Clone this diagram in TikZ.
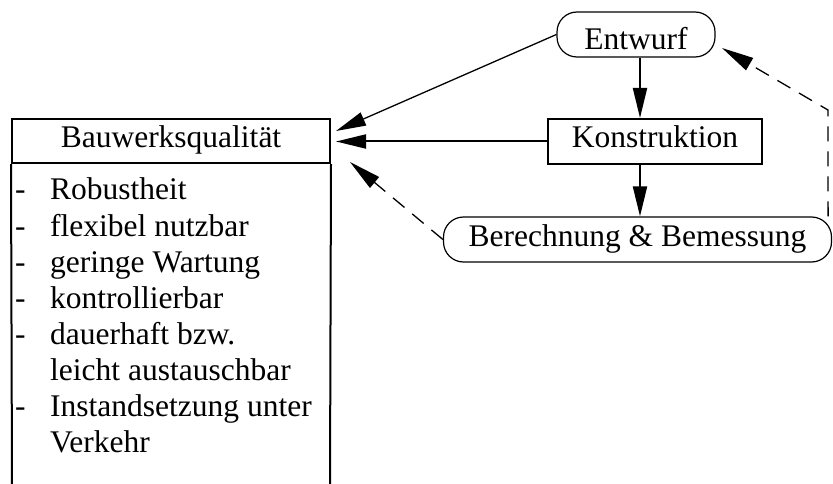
\documentclass[tikz,border=0pt]{standalone}
\usepackage{fontspec}
\setmainfont{Liberation Serif}
\usetikzlibrary{arrows.meta}
\begin{document}
\begin{tikzpicture}[x=1pt,y=-1pt,
  every node/.style={font=\fontsize{31.5}{36}\selectfont},
  rbox/.style={draw,line width=1.2pt,rounded corners=20pt,minimum height=45pt,inner sep=0pt,text height=22pt,text depth=9pt},
  sbox/.style={draw,line width=2pt,minimum height=45pt,inner sep=0pt,text height=22pt,text depth=9pt},
  itemtxt/.style={anchor=base west,inner sep=0pt},
  arr/.style={line width=2pt,-{Triangle[length=30pt,width=14pt]}},
  thinarr/.style={line width=1.3pt,-{Triangle[length=30pt,width=14pt]}},
  dasharr/.style={line width=1.3pt,dash pattern=on 15pt off 10pt,-{Triangle[length=32pt,width=14pt]}}
]
\useasboundingbox (0,0) rectangle (833,484);

% Nodes
\node[rbox,minimum width=158pt,text height=30pt,text depth=0pt] (E) at (636,34.5) {Entwurf};
\node[sbox,minimum width=214pt] (K) at (655,141.5) {Konstruktion};
\node[rbox,minimum width=388pt] (B) at (637.5,239.5) {Berechnung \& Bemessung};
\node[sbox,minimum width=318pt,minimum height=44pt] (H) at (171,141) {Bauwerksqualität};
\coordinate (HL) at (12,484);
\coordinate (HR) at (330,484);
\draw[line width=2pt] (H.south west) -- (HL);
\draw[line width=2pt] (H.south east) -- (HR);

% list
\foreach \y/\d/\t [count=\i] in {200/-/Robustheit,236/-/flexibel nutzbar,272/-/geringe Wartung,308/-/kontrollierbar,344/-/dauerhaft bzw.,380//leicht austauschbar,416/-/Instandsetzung unter,452//Verkehr}{
  \node[itemtxt] (d\i) at (15,\y) {\d};
  \node[itemtxt] (l\i) at (50,\y) {\t};
}

% connector ends
\coordinate (t1) at (336,131);
\coordinate (t2) at (336,141.5);
\coordinate (t3) at (350,162);
\coordinate (c1) at (828,110);
\coordinate (t4) at (722,48);

% connectors
\draw[arr] ([xshift=4pt]E.south) -- ([xshift=4pt]E.south |- K.north);
\draw[arr] ([xshift=-15pt]K.south) -- ([xshift=-15pt]K.south |- B.north);
\draw[thinarr] (E.west) -- (t1);
\draw[arr] (K.west) -- (t2);
\draw[dasharr] (B.west) -- (t3);
\draw[dasharr] ([xshift=-4pt]B.north east) -- (c1) -- (t4);
\end{tikzpicture}
\end{document}
